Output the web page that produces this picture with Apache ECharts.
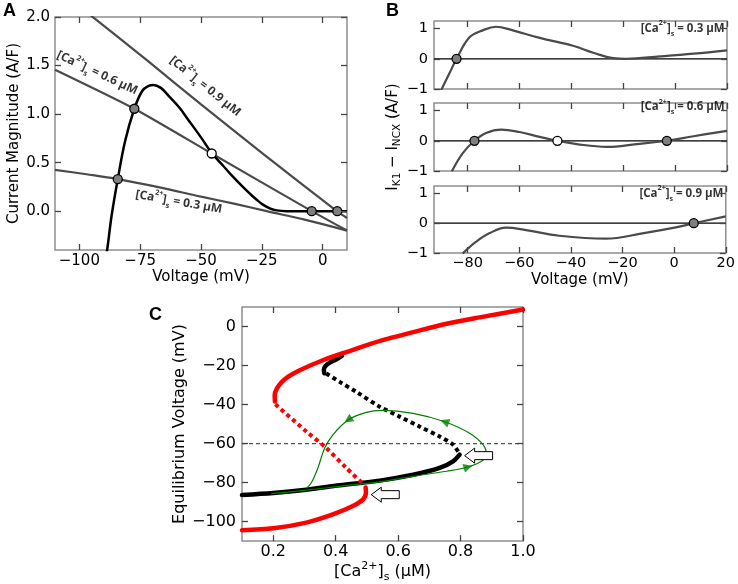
<!DOCTYPE html>
<html><head><meta charset="utf-8">
<script src="https://cdn.jsdelivr.net/npm/echarts@6/dist/echarts.min.js"></script>
<style>html,body{margin:0;padding:0;background:#fff}#c{width:738px;height:584px}</style>
</head><body><div id="c"></div><script>
// ---------- Panel A data ----------
const aTicksX = [-100, -75, -50, -25, 0];
const aTicksY = [0, 0.5, 1.0, 1.5, 2.0];
const aK1V = [-89.5, -88.7, -86.7, -84.2, -81.2, -77.4, -74.1, -71.5, -69.6, -66.5, -63.4, -59, -55.2, -50, -45.6, -41, -36.7, -33, -29.9, -27, -24.4, -21.5, -18.9, -15, -5, 10];
const aK1I = [-0.5, -0.42, -0.04, 0.33, 0.72, 1.055, 1.24, 1.29, 1.30, 1.27, 1.19, 1.07, 0.94, 0.76, 0.60, 0.47, 0.35, 0.255, 0.18, 0.115, 0.065, 0.027, 0.008, 0, 0, 0];
const aN03V = [-110, -97, -84.2, -67, -50, -36, -23, -7, 10];
const aN03I = [0.426, 0.38, 0.33, 0.245, 0.15, 0.075, 0.0, -0.09, -0.2];
const aN06V = [-110, -77.4, -45.6, -4.5, 10];
const aN06I = [1.457, 1.055, 0.594, 0.0, -0.2];
const aN09V = [-100, -72, -50, -25, 5.8, 10];
const aN09I = [2.11, 1.55, 1.1, 0.6, 0.0, -0.07];
const aDotsGray = [[-84.2, 0.33], [-77.4, 1.055], [-4.5, 0], [6.0, 0]];
const aDotsWhite = [[-45.6, 0.594]];
const aLabelPos = [[-92.65, 1.423], [-48.3, 1.286], [-59.1, 0.094]];
const aLabelCa = ['0.6', '0.9', '0.3'];
const aLabelRot = [-25, -39, -10];

// ---------- Panel B data ----------
const bTicksX = [-80, -60, -40, -20, 0, 20];
const bTicksY = [-1, 0, 1];
const b03V = [-90.3, -87.1, -84.3, -79.3, -74.2, -69.2, -62.6, -52.2, -39.4, -31.6, -23.9, -18.8, -5.8, 7.1, 20];
const b03D = [-1.05, -0.49, 0, 0.71, 0.94, 1.06, 0.94, 0.69, 0.43, 0.2, 0.02, 0, 0.08, 0.17, 0.28];
const b06V = [-86.1, -81.9, -77.4, -72.9, -67.1, -60, -52.2, -45.4, -38, -26.4, -14.8, -3.2, 7.1, 20];
const b06D = [-1.01, -0.41, 0, 0.26, 0.37, 0.29, 0.13, 0, -0.11, -0.2, -0.11, 0, 0.15, 0.33];
const b09V = [-81.9, -76.8, -71.6, -65.1, -57.4, -44.5, -26.4, -12.3, 0.7, 7.6, 20];
const b09D = [-1.02, -0.63, -0.34, -0.15, -0.23, -0.42, -0.52, -0.34, -0.14, 0, 0.23];
const bGray = [[[-84.3, 0]], [[-77.4, 0], [-3.2, 0]], [[7.6, 0]]];
const bWhite = [[], [[-45.4, 0]], []];
const bCa = ['0.3', '0.6', '0.9'];
const bLabelY = [1.0, 1.12, 1.0];

// ---------- Panel C data ----------
const cTicksX = [0.2, 0.4, 0.6, 0.8, 1.0];
const cTicksY = [-100, -80, -60, -40, -20, 0];
const cRedUpX = [0.2055, 0.2047, 0.212, 0.226, 0.247, 0.285, 0.359, 0.434, 0.55, 0.648, 0.755, 0.861, 1.0];
const cRedUpY = [-38.5, -35.1, -31.7, -28.7, -25.8, -22.4, -17.3, -13.1, -7.0, -2.9, 1.4, 4.7, 8.7];
const cRedMidX = [0.207, 0.306, 0.37, 0.434, 0.49];
const cRedMidY = [-39.9, -53.8, -62.3, -72.5, -81];
const cRedLowX = [0.1, 0.2, 0.306, 0.391, 0.455, 0.488, 0.497, 0.496];
const cRedLowY = [-104.4, -103.4, -100.5, -96.3, -92, -88.6, -85.0, -82.5];
const cBlkUpX = [0.364, 0.362, 0.367, 0.38, 0.40, 0.42];
const cBlkUpY = [-24.0, -22.3, -20.3, -18.6, -17.0, -15.0];
const cBlkMidX = [0.37, 0.413, 0.466, 0.541, 0.605, 0.669, 0.733, 0.776, 0.795];
const cBlkMidY = [-24.1, -28.4, -33.5, -41.1, -46.2, -51.3, -56.4, -60.6, -64.9];
const cBlkLowX = [0.1, 0.2, 0.306, 0.413, 0.541, 0.648, 0.733, 0.776, 0.797];
const cBlkLowY = [-86.4, -85.4, -83.7, -81.4, -79, -76, -72.5, -69.1, -65.7];
const cGreenX = [0.194, 0.306, 0.413, 0.541, 0.648, 0.755, 0.824, 0.867, 0.883, 0.872, 0.829, 0.749, 0.648, 0.55, 0.498, 0.44, 0.391, 0.365, 0.343, 0.322, 0.306];
const cGreenY = [-85.7, -83.9, -81.9, -79.6, -76.8, -74.2, -72, -69.1, -65.7, -60.6, -54.7, -48.8, -44.5, -43, -44, -47.9, -55.5, -62.3, -72.5, -80.1, -83];
const cArrowX = [0.44, 0.749, 0.824];
const cArrowY = [-47.9, -48.8, -72];
const cArrowRot = [124, 70, -74];
const cHollow = [[0.514, -86.2], [0.813, -66.2]];
const cThreshold = -60;

// ---------- helpers ----------
const FONT = 'DejaVu Sans';
const LBLFONT = 'Open Sans';
const FRAME = '#8f8f8f';
const TICK = '#444444';
const zip = (xs, ys) => xs.map((x, i) => [x, ys[i]]);
const fmt = d => v => (d == null ? String(v) : v.toFixed(d)).replace('-', '\u2212');

const gridRects = [
  {left: 55, top: 17, width: 292, height: 233},
  {left: 434, top: 21, width: 293, height: 68},
  {left: 434, top: 103, width: 293, height: 68},
  {left: 434, top: 186, width: 293, height: 67},
  {left: 242, top: 307, width: 281, height: 235}
];
const grids = gridRects.map(g => Object.assign({show: true, borderColor: FRAME, borderWidth: 1.5, backgroundColor: 'transparent'}, g));

const xAxes = [], yAxes = [];
const series = [];
function addAxes(g, xr, yr) {
  const base = {type: 'value', gridIndex: g, axisLine: {show: false, onZero: false}, axisTick: {show: false}, splitLine: {show: false}};
  xAxes.push(Object.assign({}, base, {position: 'bottom', min: xr.min, max: xr.max,
    axisLabel: {show: !!xr.labels, customValues: xr.ticks, formatter: fmt(xr.dec), fontFamily: FONT, fontSize: xr.fs || 15, color: '#000', margin: xr.margin || 4},
    name: xr.name || '', nameLocation: 'middle', nameGap: xr.nameGap || 20, nameTextStyle: xr.nameStyle || {fontFamily: FONT, fontSize: 15, color: '#000'}}));
  yAxes.push(Object.assign({}, base, {position: 'left', min: yr.min, max: yr.max,
    axisLabel: {show: true, customValues: yr.ticks, formatter: fmt(yr.dec), fontFamily: FONT, fontSize: yr.fs || 15, color: '#000', margin: yr.margin || 5},
    name: yr.name || '', nameLocation: 'middle', nameGap: yr.nameGap || 30, nameRotate: 90, nameTextStyle: yr.nameStyle || {fontFamily: FONT, fontSize: 15, color: '#000'}}));
  // inward tick marks on all four sides, one short segment per tick, via markLine on the axes' own scales
  const r = gridRects[g], L = 6;
  const dy = L * (yr.max - yr.min) / r.height, dx = L * (xr.max - xr.min) / r.width;
  const ml = [];
  xr.ticks.forEach(v => {
    ml.push([{coord: [v, yr.min]}, {coord: [v, yr.min + dy]}]);
    ml.push([{coord: [v, yr.max]}, {coord: [v, yr.max - dy]}]);
  });
  yr.ticks.forEach(v => {
    ml.push([{coord: [xr.min, v]}, {coord: [xr.min + dx, v]}]);
    ml.push([{coord: [xr.max, v]}, {coord: [xr.max - dx, v]}]);
  });
  series.push({type: 'line', xAxisIndex: g, yAxisIndex: g, data: [], symbol: 'none', silent: true, animation: false, z: 10,
    markLine: {silent: true, animation: false, symbol: ['none', 'none'], label: {show: false}, z: 10,
      lineStyle: {color: TICK, width: 1.3, type: 'solid'}, data: ml}});
}
addAxes(0, {min: -110, max: 10, ticks: aTicksX, labels: true, dec: 0, fs: 15, name: 'Voltage (mV)', nameGap: 20},
           {min: -0.4, max: 2.0, ticks: aTicksY, dec: 1, fs: 15, name: 'Current Magnitude (A/F)', nameGap: 33});
addAxes(1, {min: -93, max: 20, ticks: bTicksX}, {min: -1, max: 1.25, ticks: bTicksY, dec: 0, fs: 14.5, margin: 6});
addAxes(2, {min: -93, max: 20, ticks: bTicksX}, {min: -1, max: 1.25, ticks: bTicksY, dec: 0, fs: 14.5, margin: 6,
  name: '{t|I}{s|K1}{t| \u2212 I}{s|NCX}{t| (A/F)}', nameGap: 25,
  nameStyle: {fontFamily: FONT, fontSize: 15, color: '#000', rich: {
    t: {fontFamily: FONT, fontSize: 15, lineHeight: 20, color: '#000'},
    s: {fontFamily: FONT, fontSize: 10.5, lineHeight: 11, verticalAlign: 'bottom', color: '#000'}}}});
addAxes(3, {min: -93, max: 20, ticks: bTicksX, labels: true, dec: 0, fs: 14.5, margin: 3, name: 'Voltage (mV)', nameGap: 20},
           {min: -1, max: 1.25, ticks: bTicksY, dec: 0, fs: 14.5, margin: 6});
addAxes(4, {min: 0.1, max: 1.0, ticks: cTicksX, labels: true, dec: 1, fs: 16, margin: 3,
  name: '{b|[Ca}{p|2+}{b|]}{u|s}{b| (\u03bcM)}', nameGap: 19,
  nameStyle: {fontFamily: FONT, fontSize: 16, color: '#000', rich: {
    b: {fontFamily: FONT, fontSize: 16, lineHeight: 22, color: '#000'},
    p: {fontFamily: FONT, fontSize: 11, lineHeight: 12, verticalAlign: 'top', color: '#000'},
    u: {fontFamily: FONT, fontSize: 11, lineHeight: 11, verticalAlign: 'bottom', color: '#000'}}}},
  {min: -110, max: 10, ticks: cTicksY, dec: 0, fs: 16, margin: 6, name: 'Equilibrium Voltage (mV)', nameGap: 46,
   nameStyle: {fontFamily: FONT, fontSize: 16, color: '#000'}});

const caRich = (size) => ({
  b: {fontFamily: LBLFONT, fontWeight: 'bold', fontSize: size, lineHeight: size + 6, color: '#000'},
  p: {fontFamily: LBLFONT, fontWeight: 'bold', fontSize: size * 0.62, lineHeight: size * 0.75, verticalAlign: 'top', color: '#000'},
  u: {fontFamily: LBLFONT, fontWeight: 'bold', fontSize: size * 0.62, lineHeight: size * 0.7, verticalAlign: 'bottom', color: '#000'}
});
const caText = c => '{b|[Ca}{p|2+}{b|]}{u|s}{b| = ' + c + ' \u03bcM}';

function line(g, data, style, extra) {
  series.push(Object.assign({type: 'line', xAxisIndex: g, yAxisIndex: g, data: data, symbol: 'none',
    smooth: 0.35, lineStyle: style, silent: true, animation: false}, extra || {}));
}
function dots(g, data, fill) {
  series.push({type: 'scatter', xAxisIndex: g, yAxisIndex: g, data: data, symbol: 'circle', symbolSize: 9,
    itemStyle: {color: fill, borderColor: '#000', borderWidth: 1.3, opacity: 1}, z: 5, animation: false, silent: true});
}

// Panel A
line(0, zip(aN03V, aN03I), {color: '#4a4a4a', width: 2.2});
line(0, zip(aN06V, aN06I), {color: '#4a4a4a', width: 2.2}, {smooth: 0.2});
line(0, zip(aN09V, aN09I), {color: '#4a4a4a', width: 2.2}, {smooth: 0.2});
line(0, zip(aK1V, aK1I), {color: '#000', width: 2.5}, {smooth: 0.4, z: 3});
dots(0, aDotsGray, '#7f7f7f');
dots(0, aDotsWhite, '#ffffff');
series.push({type: 'scatter', xAxisIndex: 0, yAxisIndex: 0, symbol: 'circle', symbolSize: 1, animation: false, silent: true,
  itemStyle: {color: 'rgba(0,0,0,0)'},
  data: aLabelPos.map((p, i) => ({value: p, label: {show: true, position: 'inside', rotate: aLabelRot[i],
    fontWeight: 'bold', fontFamily: LBLFONT, fontSize: 12,
    formatter: caText(aLabelCa[i]), rich: caRich(12)}}))});

// Panel B
const bV = [b03V, b06V, b09V], bD = [b03D, b06D, b09D];
for (let k = 0; k < 3; k++) {
  const g = k + 1;
  line(g, [[-93, 0], [20, 0]], {color: '#000', width: 1.2}, {smooth: false});
  line(g, zip(bV[k], bD[k]), {color: '#4a4a4a', width: 2.2}, {smooth: 0.4});
  if (bGray[k].length) dots(g, bGray[k], '#7f7f7f');
  if (bWhite[k].length) dots(g, bWhite[k], '#ffffff');
  series.push({type: 'scatter', xAxisIndex: g, yAxisIndex: g, symbol: 'circle', symbolSize: 1, animation: false, silent: true,
    itemStyle: {color: 'rgba(0,0,0,0)'},
    data: [{value: [19.3, bLabelY[k]], label: {show: true, position: 'left', distance: 0,
      fontWeight: 'bold', fontFamily: LBLFONT, fontSize: 11.5,
      formatter: caText(bCa[k]), rich: caRich(11.5)}}]});
}

// Panel C
line(4, [[0.1, cThreshold], [1.0, cThreshold]], {color: '#555', width: 1.3, type: [4, 3]}, {smooth: false});
line(4, zip(cBlkLowX, cBlkLowY), {color: '#000', width: 4.5, cap: 'round'}, {smooth: 0.3});
line(4, zip(cRedLowX, cRedLowY), {color: '#ff0000', width: 4.5, cap: 'round'}, {smooth: 0.3});
line(4, zip(cRedMidX, cRedMidY), {color: '#ff0000', width: 4, type: [4, 3.5]}, {smooth: 0.3});
line(4, zip(cBlkMidX, cBlkMidY), {color: '#000', width: 4, type: [4, 3.5]}, {smooth: 0.3});
line(4, zip(cBlkUpX, cBlkUpY), {color: '#000', width: 4.5, cap: 'round'}, {smooth: 0.3});
line(4, zip(cRedUpX, cRedUpY), {color: '#ff0000', width: 4.5, cap: 'round'}, {smooth: 0.3});
line(4, zip(cGreenX, cGreenY), {color: '#008000', width: 1.2}, {smooth: 0.35, z: 4});
series.push({type: 'scatter', xAxisIndex: 4, yAxisIndex: 4, animation: false, silent: true, z: 5,
  data: cArrowX.map((x, i) => ({value: [x, cArrowY[i]], symbolRotate: cArrowRot[i]})),
  symbol: 'triangle', symbolSize: 9, itemStyle: {color: '#008000'}});
series.push({type: 'custom', xAxisIndex: 4, yAxisIndex: 4, animation: false, silent: true, z: 6, data: cHollow,
  renderItem: function (params, api) {
    const p = api.coord([api.value(0), api.value(1)]);
    const L = 28, hl = 10, hh = 7.5, bh = 4;
    const pts = [[0, 0], [hl, -hh], [hl, -bh], [L, -bh], [L, bh], [hl, bh], [hl, hh]].map(d => [p[0] + d[0], p[1] + d[1]]);
    return {type: 'polygon', shape: {points: pts}, style: {fill: '#fff', stroke: '#000', lineWidth: 1}};
  }});

const chart = echarts.init(document.getElementById('c'), null, {renderer: 'canvas'});
chart.setOption({
  animation: false,
  backgroundColor: '#fff',
  grid: grids,
  xAxis: xAxes,
  yAxis: yAxes,
  series: series,
  graphic: [
    {type: 'text', left: 3, top: 2, style: {text: 'A', font: 'bold 18px "Liberation Sans"', fill: '#000'}},
    {type: 'text', left: 386, top: 2, style: {text: 'B', font: 'bold 18px "Liberation Sans"', fill: '#000'}},
    {type: 'text', left: 149, top: 306, style: {text: 'C', font: 'bold 18px "Liberation Sans"', fill: '#000'}}
  ]
});
</script></body></html>
